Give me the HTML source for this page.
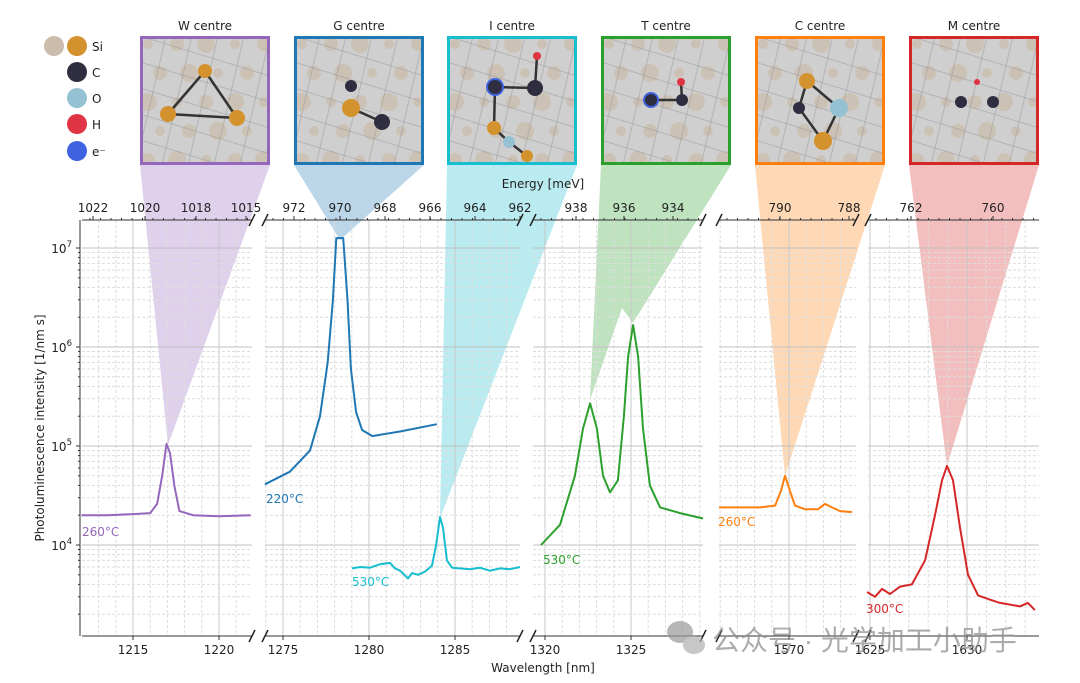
<!DOCTYPE html>
<html><head><meta charset="utf-8">
<style>
html,body{margin:0;padding:0;background:#fff;}
svg{display:block;font-family:"DejaVu Sans","Liberation Sans",sans-serif;}
</style></head>
<body>
<svg id="chart" width="1080" height="683" viewBox="0 0 1080 683" xmlns="http://www.w3.org/2000/svg">
<g id="shades"></g>
<g id="grid"></g>
<g id="axes"></g>
<g id="series"></g>
<g id="insets"></g>
<g id="legend"></g>
<text x="543" y="188" font-size="12" text-anchor="middle" fill="#222">Energy [meV]</text>
<text x="543" y="672" font-size="12" text-anchor="middle" fill="#222">Wavelength [nm]</text>
<text transform="translate(44,428) rotate(-90)" font-size="12" text-anchor="middle" fill="#222">Photoluminescence intensity [1/nm s]</text>
<g opacity="0.7">
<ellipse cx="680" cy="632" rx="13" ry="11" fill="#9a9a9a"/>
<ellipse cx="694" cy="645" rx="11" ry="9" fill="#b0b0b0"/>
<text x="712" y="650" font-size="28" fill="#8a8a8a" font-family="'Liberation Sans','Noto Sans CJK SC',sans-serif">公众号 · 光学加工小助手</text>
</g>
</svg>
<script>
const NS='http://www.w3.org/2000/svg';
function mk(tag,attrs,parent){const e=document.createElementNS(NS,tag);for(const k in attrs)e.setAttribute(k,attrs[k]);if(parent)parent.appendChild(e);return e;}

// ---- data ----
const wWave=[1212.0,1213.5,1215.0,1216.0,1216.4,1216.7,1216.95,1217.15,1217.4,1217.7,1218.5,1220.0,1221.85];
const wInt=[2.0e4,2.0e4,2.05e4,2.1e4,2.6e4,5.0e4,1.05e5,8.5e4,4.0e4,2.2e4,2.0e4,1.95e4,2.0e4];
const gWave=[1273.95,1275.4,1276.57,1277.15,1277.6,1277.9,1278.1,1278.5,1278.75,1278.95,1279.25,1279.6,1280.2,1281.8,1283.95];
const gInt=[4.1e4,5.5e4,9.0e4,2.0e5,7.0e5,3.0e6,1.26e7,1.26e7,3.0e6,6.0e5,2.2e5,1.45e5,1.26e5,1.4e5,1.66e5];
const iWave=[1279.01,1279.48,1280.06,1280.64,1281.22,1281.51,1281.8,1282.27,1282.5,1282.85,1283.26,1283.66,1283.9,1284.13,1284.3,1284.53,1284.83,1285.87,1286.45,1287.03,1287.62,1288.2,1288.78];
const iInt=[5.8e3,6.0e3,5.9e3,6.4e3,6.6e3,5.8e3,5.5e3,4.6e3,5.2e3,5.0e3,5.4e3,6.2e3,1.0e4,1.92e4,1.5e4,7.0e3,5.9e3,5.7e3,5.9e3,5.5e3,5.8e3,5.7e3,6.0e3];
const tWave=[1319.77,1320.87,1321.74,1322.21,1322.62,1323.02,1323.37,1323.78,1324.24,1324.59,1324.83,1325.12,1325.41,1325.7,1326.1,1326.69,1327.85,1329.19];
const tInt=[1.0e4,1.6e4,5.0e4,1.5e5,2.7e5,1.5e5,5.0e4,3.4e4,4.5e4,2.0e5,8.0e5,1.67e6,8.0e5,1.5e5,4.0e4,2.4e4,2.1e4,1.85e4];
const cWave=[1565.93,1568.31,1569.19,1569.53,1569.77,1570.06,1570.35,1570.93,1571.69,1572.09,1572.5,1572.97,1573.66];
const cInt=[2.4e4,2.4e4,2.5e4,3.5e4,5.0e4,3.5e4,2.5e4,2.3e4,2.3e4,2.6e4,2.4e4,2.2e4,2.15e4];
const mWave=[1624.85,1625.26,1625.62,1626.03,1626.55,1627.16,1627.84,1628.35,1628.71,1628.97,1629.28,1629.64,1630.05,1630.57,1631.19,1631.7,1632.22,1632.73,1633.14,1633.5];
const mInt=[3.35e3,3.0e3,3.6e3,3.2e3,3.8e3,4.0e3,7.0e3,2.0e4,4.5e4,6.3e4,4.5e4,1.5e4,5.0e3,3.1e3,2.8e3,2.6e3,2.5e3,2.4e3,2.6e3,2.2e3];
const bottomTicks=[[1215,1220],[1275,1280,1285],[1320,1325],[1570],[1625,1630]];
const topTicks=[[1022,1020,1018,1015],[972,970,968,966,964,962],[938,936,934],[790,788],[762,760]];
const yTicks=[4,5,6,7];

// ---- layout ----
const panels=[
 {x0:82,x1:252,ref:1215,px:133,k:17.2,top:[93,145,196,246]},
 {x0:265,x1:520,ref:1275,px:283,k:17.2,top:[294,340,385,430,475,520]},
 {x0:533,x1:703,ref:1320,px:545,k:17.2,top:[576,624,673]},
 {x0:719,x1:856,ref:1570,px:789,k:17.2,top:[780,849]},
 {x0:868,x1:1039,ref:1625,px:870,k:19.4,top:[911,993]}];
const YT=220,YB=636;
function xs(p,l){const P=panels[p];return P.px+(l-P.ref)*P.k;}
function ys(v){return 545-(Math.log10(v)-4)*99;}

const grid=document.getElementById('grid'),axes=document.getElementById('axes'),ser=document.getElementById('series');
panels.forEach((P,pi)=>{
  const lo=P.ref+(P.x0-P.px)/P.k, hi=P.ref+(P.x1-P.px)/P.k;
  for(let l=Math.ceil(lo);l<=hi;l++){const x=xs(pi,l);
    const ln=mk('line',{x1:x,x2:x,y1:YT,y2:YB,stroke:'#ddd','stroke-dasharray':'3,2','stroke-width':1},grid);
    }
  bottomTicks[pi].forEach(t=>{const x=xs(pi,t);
    const ln=mk('line',{x1:x,x2:x,y1:YT,y2:YB,stroke:'#c8c8c8','stroke-width':1},grid);
    
    mk('line',{x1:x,x2:x,y1:YB,y2:YB+4,stroke:'#333'},axes);
    const tx=mk('text',{x:x,y:YB+18,'font-size':12,'text-anchor':'middle',fill:'#222'},axes);tx.textContent=t;
    });
  for(let d=3;d<=7;d++){for(let m=1;m<10;m++){const v=m*Math.pow(10,d);const y=ys(v);if(y<YT||y>YB)continue;
    const ln=mk('line',{x1:P.x0,x2:P.x1,y1:y,y2:y,stroke:m===1?'#c0c0c0':'#ddd','stroke-dasharray':m===1?'none':'3,2','stroke-width':1},grid);
    }}
  mk('line',{x1:P.x0,x2:P.x1,y1:YT,y2:YT,stroke:'#333','stroke-width':1},axes);
  mk('line',{x1:P.x0,x2:P.x1,y1:YB,y2:YB,stroke:'#333','stroke-width':1},axes);
  topTicks[pi].forEach((t,i)=>{const x=P.top[i];
    mk('line',{x1:x,x2:x,y1:YT,y2:YT-4,stroke:'#333'},axes);
    const tx=mk('text',{x:x,y:YT-8,'font-size':12,'text-anchor':'middle',fill:'#222'},axes);tx.textContent=t;
    });
  for(let x=P.x0+8;x<P.x1;x+=10.5){mk('line',{x1:x,x2:x,y1:YT,y2:YT-2,stroke:'#333'},axes);}
  if(pi<panels.length-1){const N=panels[pi+1];[P.x1,N.x0].forEach(bx=>{[YT,YB].forEach(by=>{
    mk('line',{x1:bx-3,x2:bx+3,y1:by+6,y2:by-6,stroke:'#222','stroke-width':1.5},axes);});});}
});
mk('line',{x1:80,x2:80,y1:YT,y2:YB,stroke:'#333'},axes);
yTicks.forEach(e=>{const y=ys(Math.pow(10,e));
  mk('line',{x1:76,x2:80,y1:y,y2:y,stroke:'#333'},axes);
  const tx=mk('text',{x:72,y:y+5,'font-size':12,'text-anchor':'end',fill:'#222'},axes);
  tx.innerHTML='10<tspan dy="-6" font-size="8.5">'+e+'</tspan>';
  
  for(let m=2;m<10;m++){const yy=ys(m*Math.pow(10,e-1));if(yy<YB)mk('line',{x1:78,x2:80,y1:yy,y2:yy,stroke:'#333'},axes);}
});
for(let m=2;m<10;m++){const yy=ys(m*1e7);if(yy>YT)mk('line',{x1:78,x2:80,y1:yy,y2:yy,stroke:'#333'},axes);}

const S=[
 {p:0,w:wWave,v:wInt,c:'#9467bd',n:'w-centre-spectrum',lab:'260°C',lx:82,ly:536},
 {p:1,w:gWave,v:gInt,c:'#1f77b4',n:'g-centre-spectrum',lab:'220°C',lx:266,ly:503},
 {p:1,w:iWave,v:iInt,c:'#17becf',n:'i-centre-spectrum',lab:'530°C',lx:352,ly:586},
 {p:2,w:tWave,v:tInt,c:'#2ca02c',n:'t-centre-spectrum',lab:'530°C',lx:543,ly:564},
 {p:3,w:cWave,v:cInt,c:'#ff7f0e',n:'c-centre-spectrum',lab:'260°C',lx:718,ly:526},
 {p:4,w:mWave,v:mInt,c:'#d62728',n:'m-centre-spectrum',lab:'300°C',lx:866,ly:613}];
S.forEach(s=>{const d=s.w.map((l,i)=>(i?'L':'M')+xs(s.p,l).toFixed(1)+','+ys(s.v[i]).toFixed(1)).join('');
  const pa=mk('path',{d:d,fill:'none',stroke:s.c,'stroke-width':2,'stroke-linejoin':'round'},ser);
  
  const t=mk('text',{x:s.lx,y:s.ly,'font-size':12,fill:s.c},ser);t.textContent=s.lab;
  });

const boxes=[
 {x:140,t:'W centre',c:'#9467bd',atoms:[['Si',65,35,7],['Si',28,78,8],['Si',97,82,8]],bonds:[[0,1],[1,2],[0,2]]},
 {x:294,t:'G centre',c:'#1f77b4',atoms:[['C',57,50,6],['Si',57,72,9],['C',88,86,8]],bonds:[[1,2]]},
 {x:447,t:'I centre',c:'#17becf',atoms:[['e',48,51,9],['C',48,51,7],['C',88,52,8],['H',90,20,4],['Si',47,92,7],['O',62,106,6],['Si',80,120,6]],bonds:[[1,2],[2,3],[1,4],[4,5],[5,6]]},
 {x:601,t:'T centre',c:'#2ca02c',atoms:[['e',50,64,8],['C',50,64,6],['C',81,64,6],['H',80,46,4]],bonds:[[1,2],[2,3]]},
 {x:755,t:'C centre',c:'#ff7f0e',atoms:[['Si',52,45,8],['C',44,72,6],['O',84,72,9],['Si',68,105,9]],bonds:[[0,1],[0,2],[1,3],[2,3]]},
 {x:909,t:'M centre',c:'#d62728',atoms:[['H',68,46,3],['C',52,66,6],['C',84,66,6]],bonds:[]}];
const peaks=[[[168,445]],[[340,240]],[[440,518]],[[633,323],[622,308],[590,400]],[[785,476]],[[947,466]]];
const col={Si:'#d4922e',C:'#2e2e40',O:'#94c2d2',H:'#e03444',e:'#3f63e0',tan:'#cbbcac'};
const sh=document.getElementById('shades'),ins=document.getElementById('insets');
boxes.forEach((b,i)=>{
  const pts=[[b.x,165],[b.x+130,165]].concat(peaks[i]).map(p=>p.join(',')).join(' ');
  const pg=mk('polygon',{points:pts,fill:b.c,'fill-opacity':0.3},sh);
  
  const g=mk('svg',{x:b.x,y:36,width:130,height:129,overflow:'hidden'},ins);
  
  mk('rect',{x:0,y:0,width:130,height:129,fill:'#cfcfcf'},g);
  for(let r=0;r<5;r++)for(let c=0;c<5;c++){mk('circle',{cx:8+c*29+(r%2)*12,cy:8+r*29,r:5+((r+c)%3)*2,fill:col.tan,opacity:0.75},g);}
  for(let r=0;r<6;r++){mk('line',{x1:0,y1:r*26,x2:130,y2:r*26+40,stroke:'#999',opacity:0.5},g);mk('line',{x1:r*26,y1:0,x2:r*26-30,y2:129,stroke:'#999',opacity:0.5},g);}
  b.bonds.forEach(([a,c])=>{const A=b.atoms[a],C=b.atoms[c];mk('line',{x1:A[1],y1:A[2],x2:C[1],y2:C[2],stroke:'#333','stroke-width':2.5},g);});
  b.atoms.forEach(a=>{mk('circle',{cx:a[1],cy:a[2],r:a[3],fill:col[a[0]]},g);});
  mk('rect',{x:1.5,y:1.5,width:127,height:126,fill:'none',stroke:b.c,'stroke-width':3},g);
  const tt=mk('text',{x:b.x+65,y:30,'font-size':12,'text-anchor':'middle',fill:'#222'},ins);tt.textContent=b.t;
  
});
const lg=document.getElementById('legend');
mk('circle',{cx:54,cy:46,r:10,fill:col.tan},lg);
[['Si',46,'Si'],['C',72,'C'],['O',98,'O'],['H',124,'H'],['e',151,'e⁻']].forEach(([k,y,l])=>{
  mk('circle',{cx:77,cy:y,r:10,fill:col[k]},lg);
  const t=mk('text',{x:92,y:y+5,'font-size':12,fill:'#222'},lg);t.textContent=l;
  });
</script>
</body></html>
